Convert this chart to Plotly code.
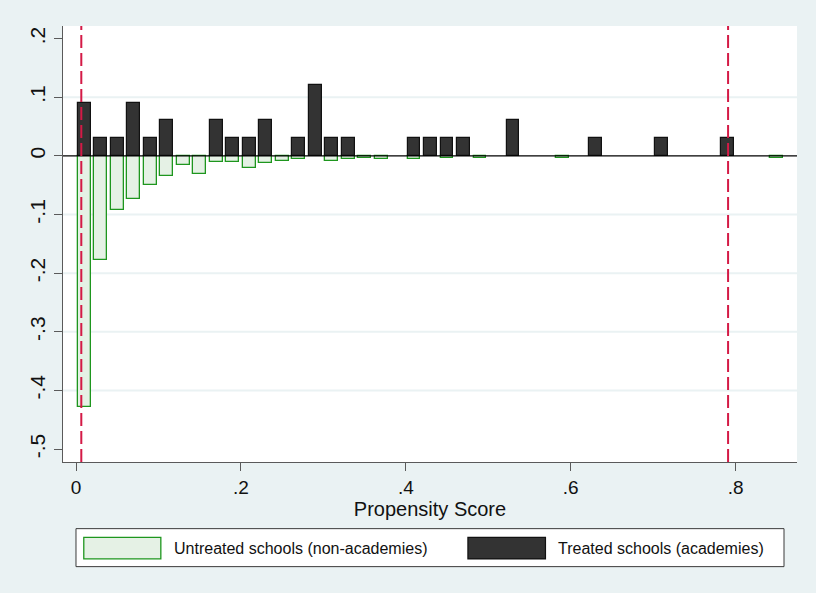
import plotly.graph_objects as go

# ---- data ----
treated_bins = [0.01, 0.03, 0.05, 0.07, 0.09, 0.11, 0.17, 0.19, 0.21, 0.23, 0.27,
                0.29, 0.31, 0.33, 0.41, 0.43, 0.45, 0.47, 0.53, 0.63, 0.71, 0.79]
treated_share = [0.0909, 0.0303, 0.0303, 0.0909, 0.0303, 0.0606, 0.0606, 0.0303,
                 0.0303, 0.0606, 0.0303, 0.1212, 0.0303, 0.0303, 0.0303, 0.0303,
                 0.0303, 0.0303, 0.0606, 0.0303, 0.0303, 0.0303]

untreated_bins = [0.01, 0.03, 0.05, 0.07, 0.09, 0.11, 0.13, 0.15, 0.17, 0.19, 0.21,
                  0.23, 0.25, 0.27, 0.31, 0.33, 0.35, 0.37, 0.41, 0.45, 0.49, 0.59, 0.85]
untreated_share = [-0.429, -0.178, -0.0926, -0.0733, -0.0494, -0.0347, -0.0153,
                   -0.0313, -0.0108, -0.0108, -0.021, -0.0114, -0.0085, -0.005,
                   -0.0085, -0.005, -0.0028, -0.005, -0.005, -0.003, -0.003, -0.003, -0.003]

support_bounds = [0.0064, 0.7909]

x_ticks = [0, 0.2, 0.4, 0.6, 0.8]
x_tick_labels = ["0", ".2", ".4", ".6", ".8"]
y_ticks = [-0.5, -0.4, -0.3, -0.2, -0.1, 0, 0.1, 0.2]
y_tick_labels = ["-.5", "-.4", "-.3", "-.2", "-.1", "0", ".1", ".2"]
y_grid = [-0.4, -0.3, -0.2, -0.1, 0.1]

legend_labels = ["Untreated schools (non-academies)", "Treated schools (academies)"]

# ---- layout geometry ----
W, H = 816, 593
ML, MR, MT, MB = 62.5, 19, 26, 130.7
PW, PH = W - ML - MR, H - MT - MB
BG = "#EAF2F3"
FONT = "Liberation Sans, Arial, sans-serif"


def px_x(p):
    return (p - ML) / PW


def px_y(p):
    return (H - MB - p) / PH


fig = go.Figure()
fig.add_trace(go.Bar(
    x=untreated_bins, y=untreated_share, width=0.0156, name=legend_labels[0],
    marker=dict(color="#E5F1E5", line=dict(color="#1E961E", width=1.3)),
))
fig.add_trace(go.Bar(
    x=treated_bins, y=treated_share, width=0.0156, name=legend_labels[1],
    marker=dict(color="#333333", line=dict(color="#111111", width=1.2)),
))

shapes = []
for g in y_grid:
    shapes.append(dict(type="line", xref="paper", yref="y", x0=0, x1=1, y0=g, y1=g,
                       line=dict(color=BG, width=2), layer="below"))
shapes.append(dict(type="line", xref="paper", yref="y", x0=0, x1=1, y0=0, y1=0,
                   line=dict(color="#000000", width=1.3), layer="above"))
for b in support_bounds:
    shapes.append(dict(type="line", xref="x", yref="paper", x0=b, x1=b, y0=0, y1=1,
                       line=dict(color="#D41A46", width=2, dash="13px,5px"), layer="above"))

# legend box (drawn by hand so that the wide Stata keys can be reproduced)
shapes.append(dict(type="rect", xref="paper", yref="paper",
                   x0=px_x(75.5), x1=px_x(784), y0=px_y(529), y1=px_y(567),
                   fillcolor="#FFFFFF", line=dict(color="#3a3a3a", width=1)))
shapes.append(dict(type="rect", xref="paper", yref="paper",
                   x0=px_x(83.3), x1=px_x(160.4), y0=px_y(537.7), y1=px_y(559.3),
                   fillcolor="#E5F1E5", line=dict(color="#1E961E", width=1.3)))
shapes.append(dict(type="rect", xref="paper", yref="paper",
                   x0=px_x(467.7), x1=px_x(545.3), y0=px_y(537.7), y1=px_y(559.3),
                   fillcolor="#333333", line=dict(color="#111111", width=1.2)))

annotations = [
    dict(xref="paper", yref="paper", x=px_x(172), y=px_y(548.5), text=legend_labels[0],
         showarrow=False, xanchor="left", yanchor="middle",
         font=dict(family=FONT, size=16, color="#111111")),
    dict(xref="paper", yref="paper", x=px_x(556), y=px_y(548.5), text=legend_labels[1],
         showarrow=False, xanchor="left", yanchor="middle",
         font=dict(family=FONT, size=16, color="#111111")),
]

fig.update_layout(
    width=W, height=H,
    margin=dict(l=ML, r=MR, t=MT, b=MB, pad=0),
    paper_bgcolor=BG, plot_bgcolor="#FFFFFF",
    showlegend=False, barmode="overlay", bargap=0,
    shapes=shapes, annotations=annotations,
    font=dict(family=FONT, color="#111111"),
    xaxis=dict(range=[-0.0158, 0.8745], tickvals=x_ticks, ticktext=x_tick_labels,
               showgrid=False, zeroline=False, showline=True, linecolor="#5a5a5a",
               linewidth=1.3, ticks="outside", ticklen=8, tickcolor="#5a5a5a",
               tickwidth=1.3, tickfont=dict(size=19, family=FONT, color="#111111"),
               title=dict(text="Propensity Score", standoff=3,
                          font=dict(size=20, family=FONT, color="#111111"))),
    yaxis=dict(range=[-0.522, 0.2215], tickvals=y_ticks, ticktext=y_tick_labels,
               showgrid=False, zeroline=False, showline=True, linecolor="#5a5a5a",
               linewidth=1.3, ticks="outside", ticklen=8, tickcolor="#5a5a5a",
               tickwidth=1.3, tickangle=-90,
               tickfont=dict(size=21, family=FONT, color="#111111")),
)

fig.write_html(
    "out.html",
    config={"displayModeBar": False},
    post_script="document.body.style.margin='0';document.body.style.overflow='hidden';",
)
